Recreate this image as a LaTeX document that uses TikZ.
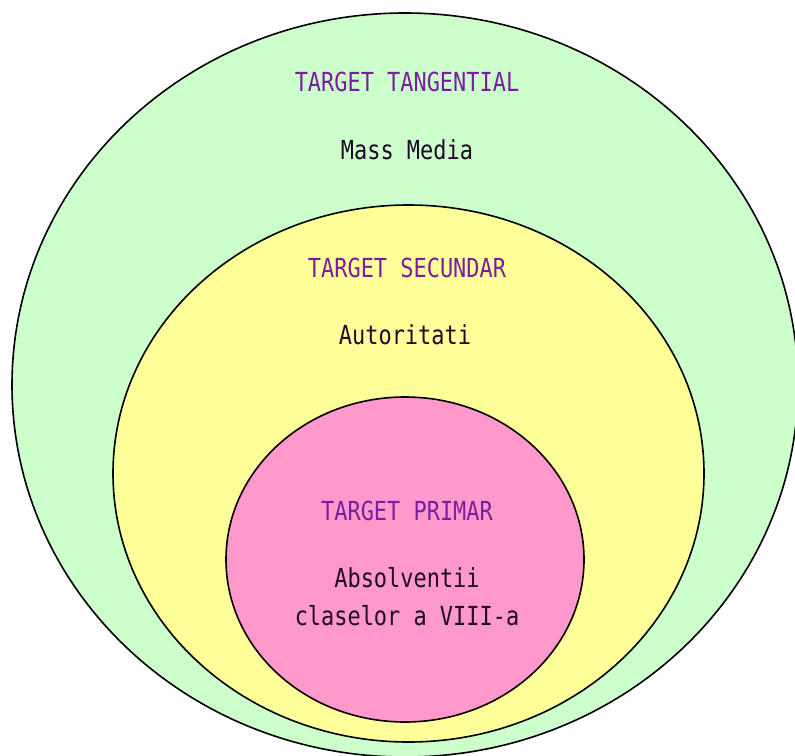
\documentclass[tikz,border=0pt]{standalone}
\usepackage{fontspec}
\setmonofont{DejaVu Sans Mono}
\usetikzlibrary{shapes.geometric}
\definecolor{outergreen}{RGB}{204,255,204}
\definecolor{midyellow}{RGB}{255,255,153}
\definecolor{innerpink}{RGB}{255,153,204}
\definecolor{titlepurple}{RGB}{122,30,160}
\definecolor{bodydark}{RGB}{30,10,40}
\newcommand\tallfont[1]{\scalebox{1.02}[1.22]{#1}}
\tikzset{
  ring/.style={ellipse, draw=black, line width=1.6pt, inner sep=0pt},
  ttl/.style={font=\ttfamily\fontsize{21.5}{24}\selectfont, text=titlepurple, inner sep=0pt},
  bdy/.style={font=\ttfamily\fontsize{21.5}{24}\selectfont, text=bodydark, inner sep=0pt}
}
\begin{document}
\begin{tikzpicture}[x=1pt,y=-1pt]
\useasboundingbox (0,0) rectangle (795,755);
\clip (0,0) rectangle (795,755);
\fill[white] (0,0) rectangle (795,755);
\node[ring, fill=outergreen, minimum width=786pt, minimum height=744pt] (outer) at (405,385) {};
\node[ring, fill=midyellow, minimum width=591pt, minimum height=537pt] (middle) at (408.5,473.5) {};
\node[ring, fill=innerpink, minimum width=358pt, minimum height=325pt] (inner) at (405,559.5) {};
\node[ttl] (t1) at (407,82) {\tallfont{TARGET TANGENTIAL}};
\node[bdy] (b1) at (407,150) {\tallfont{Mass Media}};
\node[ttl] (t2) at (407,268) {\tallfont{TARGET SECUNDAR}};
\node[bdy] (b2) at (405,335) {\tallfont{Autoritati}};
\node[ttl] (t3) at (407,511) {\tallfont{TARGET PRIMAR}};
\node[bdy] (b3) at (407,578) {\tallfont{Absolventii}};
\node[bdy] (b4) at (407,616) {\tallfont{claselor a VIII-a}};
\end{tikzpicture}
\end{document}
